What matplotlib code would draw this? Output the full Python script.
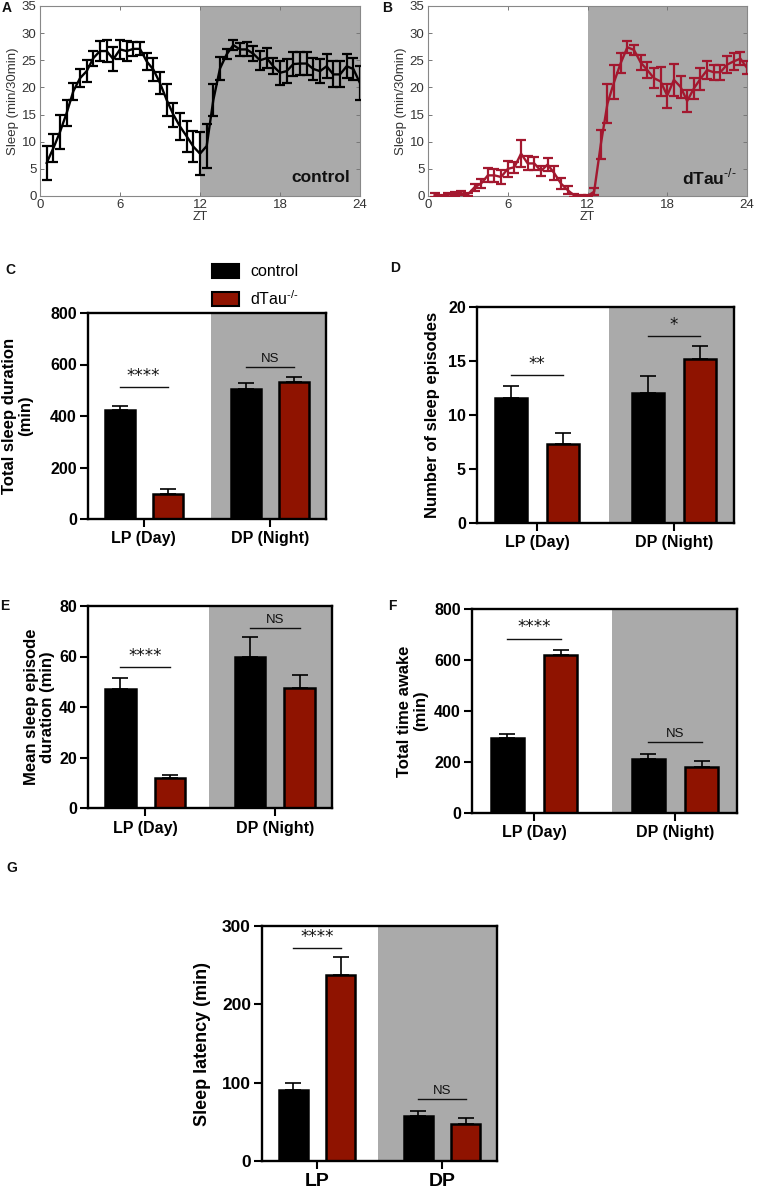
import matplotlib
matplotlib.use('Agg')
import matplotlib.pyplot as plt
from matplotlib.patches import Patch

plt.rcParams['font.family'] = ['Liberation Sans', 'DejaVu Sans']
plt.rcParams['mathtext.fontset'] = 'custom'
plt.rcParams['mathtext.rm'] = 'Liberation Sans'
plt.rcParams['mathtext.bf'] = 'Liberation Sans:bold'

# ---------------- data ----------------
zt = [0.5, 1.0, 1.5, 2.0, 2.5, 3.0, 3.5, 4.0, 4.5, 5.0, 5.5, 6.0,
      6.5, 7.0, 7.5, 8.0, 8.5, 9.0, 9.5, 10.0, 10.5, 11.0, 11.5, 12.0,
      12.5, 13.0, 13.5, 14.0, 14.5, 15.0, 15.5, 16.0, 16.5, 17.0, 17.5, 18.0,
      18.5, 19.0, 19.5, 20.0, 20.5, 21.0, 21.5, 22.0, 22.5, 23.0, 23.5, 24.0]

control_sleep = [6.1, 8.8, 11.8, 15.3, 19.3, 21.7, 23.0, 25.4, 26.7, 26.7, 25.2, 27.0,
                 26.7, 27.1, 27.1, 24.8, 23.3, 20.8, 17.7, 15.0, 12.8, 11.0, 9.1, 7.8,
                 9.2, 17.7, 23.5, 26.1, 27.8, 27.0, 27.0, 26.2, 25.0, 25.4, 23.9, 22.7,
                 23.0, 24.3, 24.4, 24.4, 23.4, 23.0, 23.9, 22.4, 22.4, 23.9, 23.4, 20.8]
control_sem = [3.1, 2.6, 3.1, 2.4, 1.6, 1.7, 2.0, 1.4, 1.9, 2.1, 2.2, 1.8,
               1.8, 1.3, 1.2, 1.6, 2.1, 2.1, 3.0, 2.2, 2.5, 2.9, 2.8, 3.9,
               4.1, 2.9, 2.1, 0.9, 0.9, 1.2, 1.3, 1.4, 1.7, 1.8, 1.5, 2.2,
               2.2, 2.2, 2.1, 2.1, 2.0, 2.2, 2.2, 2.4, 2.4, 2.2, 2.0, 3.1]

dtau_sleep = [0.2, 0.0, 0.2, 0.4, 0.5, 0.3, 1.6, 2.3, 3.8, 3.8, 3.5, 5.0,
              5.3, 7.8, 6.0, 6.0, 4.6, 5.8, 4.2, 2.3, 1.1, 0.1, 0.0, 0.0,
              0.8, 9.5, 17.0, 21.0, 24.5, 27.4, 26.9, 24.6, 23.2, 21.7, 21.1, 18.5,
              21.4, 20.1, 17.5, 19.8, 21.6, 23.2, 22.8, 22.8, 24.2, 24.8, 25.3, 23.6]
dtau_sem = [0.3, 0.2, 0.3, 0.4, 0.4, 0.3, 0.6, 0.8, 1.3, 1.2, 1.3, 1.5,
            1.0, 2.5, 1.3, 1.2, 1.0, 1.2, 1.3, 1.0, 0.8, 0.3, 0.1, 0.1,
            0.6, 2.6, 3.6, 3.2, 1.8, 1.1, 1.0, 1.3, 1.4, 1.8, 2.6, 2.2,
            3.0, 2.0, 2.1, 1.9, 2.0, 1.7, 1.4, 1.4, 1.5, 1.5, 1.2, 1.2]

groups = ['LP (Day)', 'DP (Night)']
groups_g = ['LP', 'DP']

total_sleep_ctrl = [422, 506]
total_sleep_ctrl_sem = [15, 21]
total_sleep_dtau = [98, 533]
total_sleep_dtau_sem = [18, 17]

episodes_ctrl = [11.6, 12.05]
episodes_ctrl_sem = [1.1, 1.55]
episodes_dtau = [7.35, 15.2]
episodes_dtau_sem = [1.0, 1.17]

episode_dur_ctrl = [47.3, 59.8]
episode_dur_ctrl_sem = [4.0, 8.0]
episode_dur_dtau = [11.9, 47.7]
episode_dur_dtau_sem = [1.0, 5.0]

awake_ctrl = [293, 210]
awake_ctrl_sem = [17, 23]
awake_dtau = [618, 182]
awake_dtau_sem = [20, 22]

latency_ctrl = [91, 57]
latency_ctrl_sem = [8.5, 7]
latency_dtau = [237, 47.7]
latency_dtau_sem = [24, 7.6]

sig_C = [('****', 513), ('NS', 590)]
sig_D = [('**', 13.7), ('*', 17.35)]
sig_E = [('****', 55.7), ('NS', 71.4)]
sig_F = [('****', 684), ('NS', 278)]
sig_G = [('****', 272), ('NS', 79.6)]

DTAU = r'dTau$^{\text{-/-}}$'

# ---------------- style ----------------
W, H = 757, 1189
BLACK = '#000000'
RED_BAR = '#8f1300'
RED_LINE = '#a3182f'
GREY = '#aaaaaa'
TXT = '#333333'

fig = plt.figure(figsize=(W / 100, H / 100), dpi=100)


def ax_px(l, t, r, b):
    return fig.add_axes([l / W, 1 - b / H, (r - l) / W, (b - t) / H])


def line_panel(ax, y, e, color, label):
    ax.axvspan(12, 24, color=GREY, lw=0, zorder=0)
    ax.errorbar(zt, y, yerr=e, color=color, lw=1.7, elinewidth=1.6,
                capsize=3.4, capthick=1.6, zorder=3)
    ax.set_xlim(0, 24)
    ax.set_ylim(0, 35)
    ax.set_xticks([0, 6, 12, 18, 24])
    ax.set_yticks([0, 5, 10, 15, 20, 25, 30, 35])
    ax.tick_params(direction='in', top=True, right=True, length=3,
                   width=0.7, labelsize=9.5, colors='#777777',
                   labelcolor=TXT, pad=2.5)
    for s in ax.spines.values():
        s.set_color('#888888')
        s.set_linewidth(0.8)
    ax.set_xlabel('ZT', fontsize=9, color=TXT, labelpad=0)
    ax.set_ylabel('Sleep (min/30min)', fontsize=9.5, color=TXT, labelpad=2)
    ax.text(0.968, 0.1, label, transform=ax.transAxes, ha='right',
            va='center', fontsize=12.5, fontweight='bold', color='#111111')


def bar_panel(ax, names, c, ce, d, de, ylim, yticks, ylabel, sig,
              grey_start, labelpad, fs=11.5, xfs=11.5):
    ax.set_xlim(-0.44, 1.44)
    ax.axvspan(grey_start, 1.44, color=GREY, lw=0, zorder=0)
    xs = [0, 1]
    xc = [x - 0.19 for x in xs]
    xd = [x + 0.19 for x in xs]
    ax.bar(xc, c, width=0.235, color=BLACK, edgecolor=BLACK, lw=1.8, zorder=2)
    ax.bar(xd, d, width=0.235, color=RED_BAR, edgecolor=BLACK, lw=1.8, zorder=2)
    ax.errorbar(xc, c, yerr=[[0, 0], ce], fmt='none', ecolor=BLACK,
                elinewidth=1.2, capsize=6, capthick=1.2, zorder=1)
    ax.errorbar(xd, d, yerr=[[0, 0], de], fmt='none', ecolor=BLACK,
                elinewidth=1.2, capsize=6, capthick=1.2, zorder=1)
    for x, (txt, yv) in zip(xs, sig):
        ax.plot([x - 0.19, x + 0.19], [yv, yv], color='#111111', lw=1.0, zorder=3)
        ax.annotate(txt, (x, yv), xytext=(0, 1.5), textcoords='offset points',
                    ha='center', va='bottom',
                    fontsize=12 if '*' in txt else 9.5,
                    family=['DejaVu Sans'] if '*' in txt else None,
                    color='#111111')
    ax.set_ylim(*ylim)
    ax.set_yticks(yticks)
    ax.set_xticks(xs)
    ax.set_xticklabels(names, fontweight='bold', fontsize=xfs)
    for lab in ax.get_yticklabels():
        lab.set_fontweight('bold')
        lab.set_fontsize(fs)
    ax.tick_params(direction='out', length=6, width=1.5, pad=2)
    ax.tick_params(axis='x', pad=3)
    for s in ax.spines.values():
        s.set_linewidth(1.7)
        s.set_zorder(4)
    ax.set_ylabel(ylabel, fontweight='bold', fontsize=fs + 0.5,
                  labelpad=labelpad, linespacing=1.1)


# A
axA = ax_px(40, 6, 360, 196)
line_panel(axA, control_sleep, control_sem, BLACK, 'control')
# B
axB = ax_px(428, 6, 747, 196)
line_panel(axB, dtau_sleep, dtau_sem, RED_LINE, DTAU)

# C
axC = ax_px(88, 313, 326, 519)
bar_panel(axC, groups, total_sleep_ctrl, total_sleep_ctrl_sem,
          total_sleep_dtau, total_sleep_dtau_sem, (0, 800),
          [0, 200, 400, 600, 800], 'Total sleep duration\n(min)', sig_C,
          0.53, 12)
# D
axD = ax_px(477, 307, 734, 523)
bar_panel(axD, groups, episodes_ctrl, episodes_ctrl_sem,
          episodes_dtau, episodes_dtau_sem, (0, 20),
          [0, 5, 10, 15, 20], 'Number of sleep episodes', sig_D, 0.525, 6)
# E
axE = ax_px(88, 606, 332, 808)
bar_panel(axE, groups, episode_dur_ctrl, episode_dur_ctrl_sem,
          episode_dur_dtau, episode_dur_dtau_sem, (0, 80),
          [0, 20, 40, 60, 80], 'Mean sleep episode\nduration (min)', sig_E,
          0.49, 3)
# F
axF = ax_px(472, 609, 737, 813)
bar_panel(axF, groups, awake_ctrl, awake_ctrl_sem, awake_dtau, awake_dtau_sem,
          (0, 800), [0, 200, 400, 600, 800], 'Total time awake\n(min)', sig_F,
          0.55, 4)
# G
axG = ax_px(262, 926, 497, 1161)
bar_panel(axG, groups_g, latency_ctrl, latency_ctrl_sem, latency_dtau,
          latency_dtau_sem, (0, 300), [0, 100, 200, 300],
          'Sleep latency (min)', sig_G, 0.49, 8, fs=12.5, xfs=14)

# legend
handles = [Patch(facecolor=BLACK, edgecolor=BLACK, lw=1.5),
           Patch(facecolor=RED_BAR, edgecolor=BLACK, lw=1.5)]
fig.legend(handles, ['control', DTAU], loc='upper left',
           bbox_to_anchor=(204 / W, 1 - 256 / H), frameon=False,
           fontsize=11.5, handlelength=1.7, handleheight=0.95,
           labelspacing=0.6, handletextpad=0.7, borderpad=0)

# panel letters
for letter, (x, y) in zip('ABCDEFG', [(2, 8), (382, 8), (5, 270), (390, 268),
                                      (0, 606), (388, 606), (6, 868)]):
    fig.text(x / W, 1 - y / H, letter, fontsize=10, fontweight='bold',
             ha='left', va='center', color='#111111')

fig.savefig('out.png', dpi=100)
